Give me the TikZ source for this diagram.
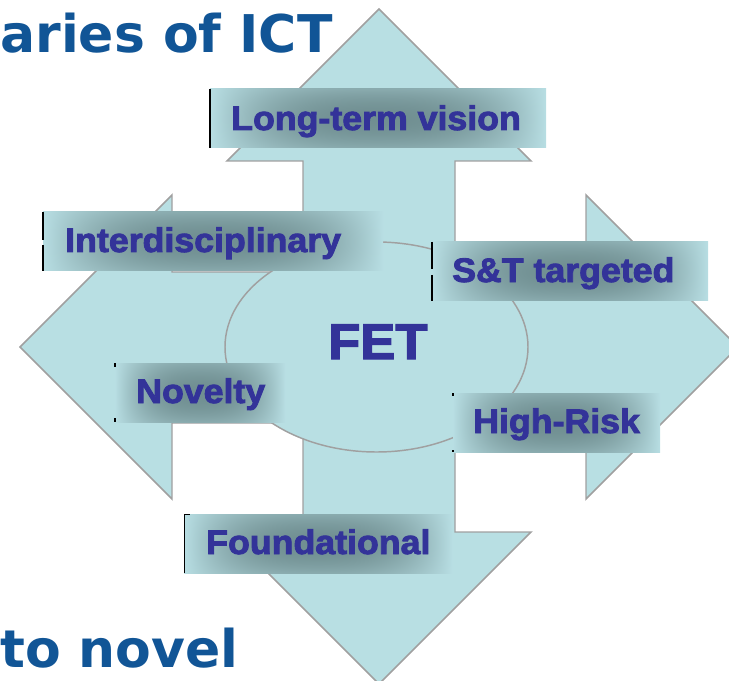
\documentclass[tikz,border=0pt]{standalone}
\usepackage{fontspec}
\newfontfamily\labfont[FakeStretch=1.05,FakeBold=2.6]{Liberation Sans}
\newfontfamily\titfont{DejaVu Sans}
\definecolor{arrowfill}{RGB}{184,223,227}
\definecolor{edgegray}{RGB}{160,160,160}
\definecolor{labblue}{RGB}{51,51,153}
\definecolor{titleblue}{RGB}{17,85,150}
\pgfdeclarefunctionalshading{labshade}{\pgfpoint{-50bp}{-50bp}}{\pgfpoint{50bp}{50bp}}{}{
 25 div abs 1 2 copy gt {exch} if pop
 dup mul 0.35 mul 1 exch sub
 exch
 25 div abs 1 2 copy gt {exch} if pop
 dup dup mul exch sqrt mul 1 exch sub
 mul
 dup dup
 -0.28 mul 0.72 add
 3 1 roll
 -0.31 mul 0.87 add
 exch -0.32 mul 0.89 add
}
\tikzset{
 arrowshape/.style={fill=arrowfill, draw=edgegray, line width=1.1pt, line join=miter},
 ringstyle/.style={fill=arrowfill, draw=edgegray, line width=1.1pt},
 labbox/.style={shading=labshade},
 labtext/.style={font=\labfont\bfseries\fontsize{25.5}{30}\selectfont, text=labblue, inner sep=0pt, anchor=base west},
 fettext/.style={font=\labfont\bfseries\fontsize{37.5}{45}\selectfont, text=labblue, inner sep=0pt, anchor=base west},
 edgemark/.style={draw=black, line width=0.9pt},
 thinmark/.style={draw=black, line width=0.5pt},
 titletext/.style={font=\titfont\bfseries\fontsize{39}{46}\selectfont, text=titleblue, inner sep=0pt, anchor=base west},
}
\begin{document}
\begin{tikzpicture}[x=0.75pt,y=-0.75pt]
\useasboundingbox (0,0) rectangle (729,681);
\clip (0,0) rectangle (729,681);
% four-way arrow
\draw[arrowshape] (379,9) -- (531,161) -- (455,161) -- (455,272) -- (586,272) -- (586,195) -- (738,347) -- (586,499) -- (586,423) -- (455,423) -- (455,532) -- (531,532) -- (379,684) -- (227,532) -- (303,532) -- (303,423) -- (172,423) -- (172,499) -- (20,347) -- (172,195) -- (172,272) -- (303,272) -- (303,161) -- (227,161) -- cycle;
% central ellipse
\draw[ringstyle] (376.5,347) ellipse [x radius=151.5, y radius=105];
\node[fettext] (fet) at (328,359) {FET};
% Long-term vision
\shade[labbox] (210,89) rectangle (546,148);
\draw[edgemark] (210,89) -- (210,148);
\node[labtext] (lt) at (231,130) {Long-term vision};
% Interdisciplinary
\shade[labbox] (43,212) rectangle (383,271);
\draw[edgemark] (43,212) -- (43,240) (43,245) -- (43,271);
\node[labtext] (inter) at (65,252) {Interdisciplinary};
% S&T targeted
\shade[labbox] (432,242) rectangle (708,301);
\draw[edgemark] (432,242) -- (432,269) (432,275) -- (432,301);
\node[labtext] (st) at (452,282) {S\&T targeted};
% Novelty
\shade[labbox] (115,363) rectangle (285,422);
\draw[edgemark] (115,363) -- (115,367) (115,418) -- (115,422);
\node[labtext] (nov) at (136,403) {Novelty};
% High-Risk
\shade[labbox] (453,393) rectangle (660,452);
\draw[edgemark] (453,393) -- (453,396) (453,450) -- (453,452);
\node[labtext] (hr) at (473,433) {High-Risk};
% Foundational
\shade[labbox] (184,514) rectangle (452,573);
\draw[thinmark] (184,514) -- (184,573) (184,514) -- (190,514);
\node[labtext] (fnd) at (206,554) {Foundational};
% titles
\node[titletext] (t1) at (0,53) {aries of ICT};
\node[titletext] (t2) at (0,667) {to novel};
\end{tikzpicture}
\end{document}
